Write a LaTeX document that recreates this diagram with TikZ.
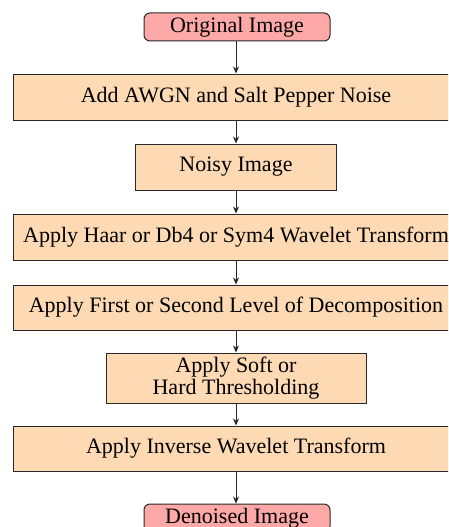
\documentclass[tikz,border=0pt]{standalone}
\usepackage{fontspec}
\setmainfont{Liberation Serif}
\usetikzlibrary{arrows.meta}
\definecolor{peach}{RGB}{253,218,180}
\definecolor{pinkbox}{RGB}{255,168,168}
\definecolor{edge}{RGB}{40,40,40}
\begin{document}
\begin{tikzpicture}[x=1pt,y=-1pt,
  every node/.style={font=\fontsize{22}{25}\selectfont},
  procbox/.style={draw=edge,line width=1pt,fill=peach,align=center,inner sep=0pt},
  termbox/.style={draw=edge,line width=1pt,fill=pinkbox,rounded corners=6pt,inner sep=0pt,minimum width=186pt,minimum height=28pt},
  wide/.style={procbox,minimum width=446pt,minimum height=46pt},
  arr/.style={draw=edge,line width=1pt,-{Stealth[length=7pt,width=6pt]}}]
\useasboundingbox (0,0) rectangle (448,527);
\clip (0,0) rectangle (448,527);
\node[termbox] (orig) at (237,27) {Original Image};
\node[wide] (awgn) at (236,97) {Add AWGN and Salt Pepper Noise};
\node[procbox,minimum width=201pt,minimum height=46pt] (noisy) at (236,167) {Noisy Image};
\node[wide] (haar) at (236,237) {Apply Haar or Db4 or Sym4 Wavelet Transform};
\node[wide,minimum height=45pt] (first) at (236,307.5) {Apply First or Second Level of Decomposition};
\node[procbox,minimum width=260pt,minimum height=50pt] (soft) at (236,378) {Apply Soft or\\[-3pt]Hard Thresholding};
\node[wide,minimum height=45pt] (inv) at (236,448.5) {Apply Inverse Wavelet Transform};
\node[termbox] (den) at (237,518) {Denoised Image};
\draw[arr] (orig.south -| awgn.north) -- (awgn.north);
\draw[arr] (awgn) -- (noisy);
\draw[arr] (noisy) -- (haar);
\draw[arr] (haar) -- (first);
\draw[arr] (first) -- (soft);
\draw[arr] (soft) -- (inv);
\draw[arr] (inv.south) -- (inv.south |- den.north);
\end{tikzpicture}
\end{document}
